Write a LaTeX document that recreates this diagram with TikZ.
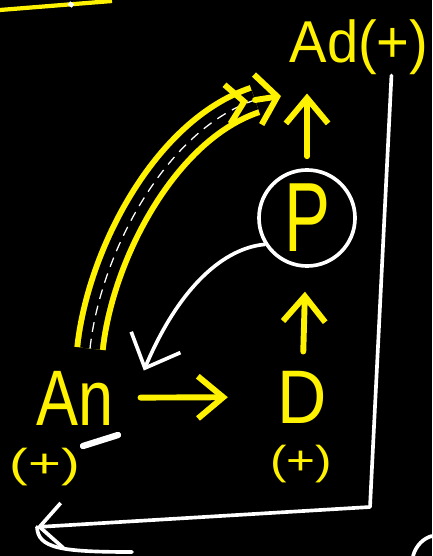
\documentclass[tikz,border=0pt]{standalone}
\usepackage{fontspec}
\setmainfont{Liberation Sans}
\usepackage{tikz}
\usetikzlibrary{positioning}
\usetikzlibrary{calc}
\usetikzlibrary{arrows.meta}

\tikzset{
hand/.style={text=yellow,inner sep=0pt},
sign/.style={hand,font=\fontsize{32}{32}\selectfont},
pen/.style={draw=yellow,line width=4.2pt,line cap=round,-{Straight Barb[length=18pt,width=30pt]}},
chalk/.style={draw=white,line width=2.6pt,line cap=round,line join=round},
twin/.style={draw=yellow,line width=4.2pt,double=black,double distance=14pt},
seam/.style={draw=white,line width=0.9pt,dash pattern=on 7pt off 5pt}
}

\begin{document}
\begin{tikzpicture}[x=0.025cm,y=-0.025cm]
\fill[black](0,0) rectangle (432,556);
\useasboundingbox (0,0) rectangle (432,556);

\node[hand,anchor=base,font=\fontsize{42}{42}\selectfont](Ad) at (359,63){\scalebox{0.95}[1]{Ad(+)}};
\node[hand,circle,draw=white,line width=2.6pt,minimum size=2.4cm,font=\fontsize{70}{70}\selectfont](P) at (307,218){\scalebox{0.7}[1]{P}};
\node[hand,anchor=base,font=\fontsize{56}{56}\selectfont](An) at (75,425){\scalebox{0.8}[1]{An}};
\node[hand,anchor=base,font=\fontsize{54}{54}\selectfont](D) at (302,423){\scalebox{0.9}[1]{D}};
\node[sign](AnSign) at (45,467){\scalebox{1.25}[0.9]{(+)}};
\node[sign](DSign) at (301,464){\scalebox{1.1}[0.9]{(+)}};
\coordinate(loopEnd) at (255,100);
\coordinate(loopTip) at (281,96);
\coordinate(turn) at (370,507);
\coordinate(backTip) at (37,527);

\draw[twin]([xshift=0.375cm,yshift=0.55cm]An.north) .. controls (100,255) and (165,130) .. (loopEnd);
\draw[seam]([xshift=0.375cm,yshift=0.55cm]An.north) .. controls (100,255) and (165,130) .. (loopEnd);
\draw[pen,-{Straight Barb[length=12pt,width=28pt,sep=5pt]Straight Barb[length=14pt,width=36pt]}](loopEnd) -- (loopTip);

\draw[chalk,-{Straight Barb[length=20pt,width=38pt]}](P.212) .. controls (225,248) and (180,285) .. ([xshift=0.75cm]An.north east);
\draw[chalk,-{Straight Barb[length=16pt,width=32pt]}]([xshift=-0.93cm]Ad.south east) -- (turn) -- (backTip);
\draw[chalk](backTip) .. controls (38,548) and (60,552) .. (132,552);
\draw[chalk](413,556) .. controls (416,545) and (424,538) .. (432,536);
\draw[white,line width=4.5pt,line cap=round](83,446) -- (118,435);
\draw[yellow,line width=3pt](0,10) -- (112,1);
\draw[white,line width=3pt](69,3) -- (73,6);

\path
(An) edge[pen,shorten <=19pt,shorten >=35pt] (D)
(D) edge[pen,shorten <=13.5pt,shorten >=17pt] (P)
(P.north) edge[pen,shorten <=8.5pt,shorten >=12.8pt] (P.north |- Ad.south);
\end{tikzpicture}
\end{document}
